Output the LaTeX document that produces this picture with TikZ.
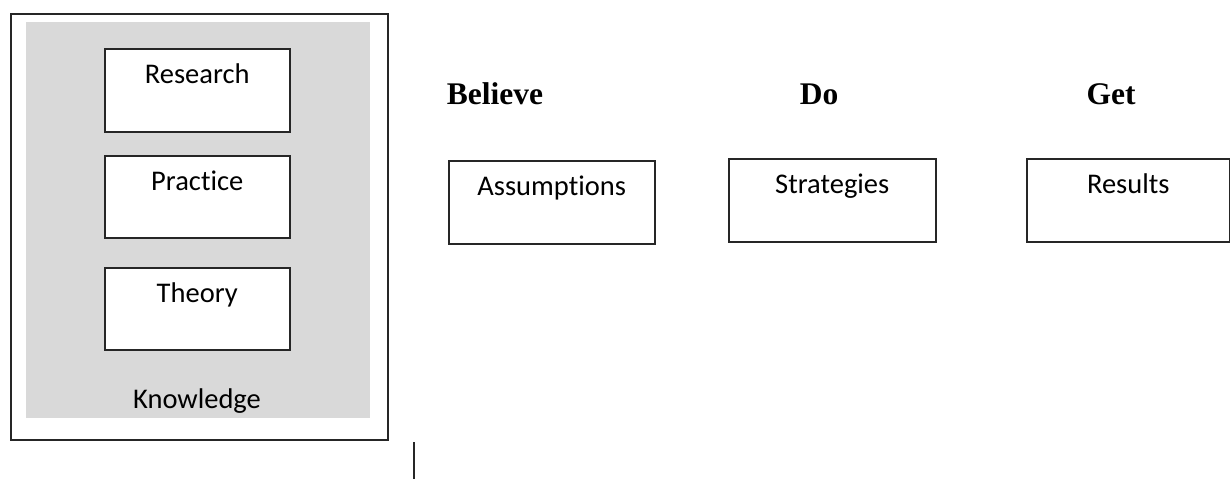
\documentclass[tikz,border=0pt]{standalone}
\usepackage{fontspec}
\setmainfont{Liberation Serif}
\newfontfamily\boxfont[Ligatures=NoCommon]{Carlito}
\usetikzlibrary{positioning}
\definecolor{kgray}{HTML}{D9D9D9}
\definecolor{kdark}{HTML}{262626}

\begin{document}
\begin{tikzpicture}[x=1pt,y=-1pt]
\tikzset{
 box/.style={draw=kdark,line width=1.5pt,fill=white,inner sep=0pt,minimum width=#1,
   text height=35pt,text depth=48pt,anchor=north west,font=\boxfont\fontsize{28.5}{34}\selectfont},
 box/.default=185pt,
 head/.style={inner sep=0pt,anchor=base,font=\bfseries\fontsize{31.5}{38}\selectfont},
 frame/.style={draw=kdark,line width=1.5pt,inner sep=0pt,anchor=north west}
}
\useasboundingbox (0,0) rectangle (1230,479);
% knowledge group
\node[frame,minimum width=377pt,minimum height=426pt] (outer) at (10,13) {};
\node[fill=kgray,inner sep=0pt,anchor=north west,minimum width=344pt,minimum height=396pt] (shade) at (26,22) {};
\node[box] (research) at (104,48) {Research};
\node[box,text depth=47pt] (practice) at (104,155) {Practice};
\node[box,text depth=47pt] (theory) at (104,267) {Theory};
\node[anchor=base,inner sep=0pt,font=\boxfont\fontsize{28.5}{34}\selectfont] (know) at (197,408) {Knowledge};
% believe / do / get
\node[head] (believe) at (495,104) {Believe};
\node[head] (do) at (819,104) {Do};
\node[head] (get) at (1111,104) {Get};
\node[box,minimum width=206pt,text depth=48pt] (assume) at (448,160) {Assumptions};
\node[box,minimum width=207pt] (strat) at (728,158) {Strategies};
\node[box,minimum width=203pt] (result) at (1026,158) {Results};
% stray tick
\coordinate (ticktop) at (414,442);
\coordinate (tickbot) at (414,479);
\draw[kdark,line width=1.5pt] (ticktop)--(tickbot);
\end{tikzpicture}
\end{document}
